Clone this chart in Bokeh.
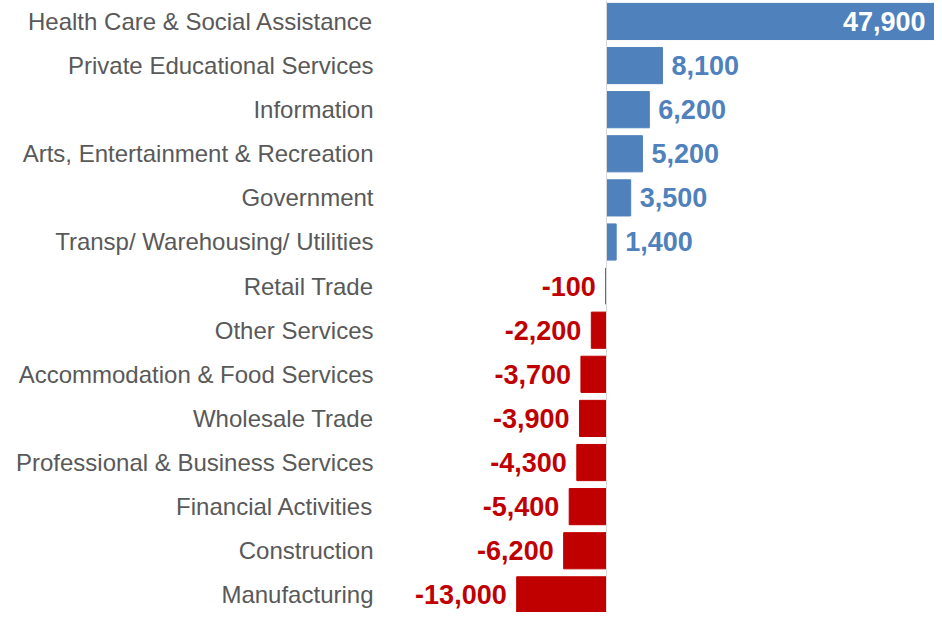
from bokeh.plotting import figure
from bokeh.models import ColumnDataSource, Range1d, FixedTicker, Span
from bokeh.embed import file_html
from bokeh.resources import INLINE
from bokeh.core.properties import value

categories = [
    "Health Care & Social Assistance",
    "Private Educational Services",
    "Information",
    "Arts, Entertainment & Recreation",
    "Government",
    "Transp/ Warehousing/ Utilities",
    "Retail Trade",
    "Other Services",
    "Accommodation & Food Services",
    "Wholesale Trade",
    "Professional & Business Services",
    "Financial Activities",
    "Construction",
    "Manufacturing",
]
changes = [47900, 8100, 6200, 5200, 3500, 1400, -100, -2200, -3700, -3900, -4300, -5400, -6200, -13000]

BLUE = "#4F81BD"
RED = "#C00000"
GRAY = "#595959"

n = len(categories)
ypos = list(range(n))
colors = [BLUE if v >= 0 else RED for v in changes]
labels = [f"{v:,}" for v in changes]

big = max(changes)
src_bar = ColumnDataSource(dict(y=ypos, v=changes, c=colors))

pos_out = [i for i, v in enumerate(changes) if v >= 0 and v != big]
pos_in = [i for i, v in enumerate(changes) if v == big]
neg = [i for i, v in enumerate(changes) if v < 0]

def sub(idx):
    return ColumnDataSource(dict(y=[ypos[i] for i in idx], v=[changes[i] for i in idx],
                                 t=[labels[i] for i in idx]))

p = figure(width=934, height=612, output_backend="svg", toolbar_location=None,
           x_range=Range1d(-32710, 47470), y_range=Range1d(13.40, -0.475),
           min_border_left=380, min_border_right=0, min_border_top=0, min_border_bottom=0)
p.outline_line_color = None
p.grid.visible = False
p.xaxis.visible = False

p.hbar(y="y", left=0, right="v", height=0.82, color="c", source=src_bar)

zero = Span(location=0, dimension="height", line_color="#D9D9D9", line_width=1)
p.add_layout(zero)

fnt = value("Liberation Sans")
p.text(x="v", y="y", text="t", source=sub(pos_out), x_offset=9, text_align="left",
       text_baseline="middle", text_font=fnt, text_font_style="bold",
       text_font_size="27px", text_color=BLUE)
p.text(x="v", y="y", text="t", source=sub(pos_in), x_offset=-12, text_align="right",
       text_baseline="middle", text_font=fnt, text_font_style="bold",
       text_font_size="27px", text_color="white")
p.text(x="v", y="y", text="t", source=sub(neg), x_offset=-10, text_align="right",
       text_baseline="middle", text_font=fnt, text_font_style="bold",
       text_font_size="27px", text_color=RED)

ya = p.yaxis[0]
ya.ticker = FixedTicker(ticks=ypos)
ya.major_label_overrides = {i: c for i, c in zip(ypos, categories)}
ya.axis_line_color = None
ya.major_tick_line_color = None
ya.minor_tick_line_color = None
ya.major_label_standoff = 1
ya.major_label_text_font = "Liberation Sans"
ya.major_label_text_font_size = "24px"
ya.major_label_text_color = GRAY

open("out.html", "w").write(file_html(p, INLINE))
